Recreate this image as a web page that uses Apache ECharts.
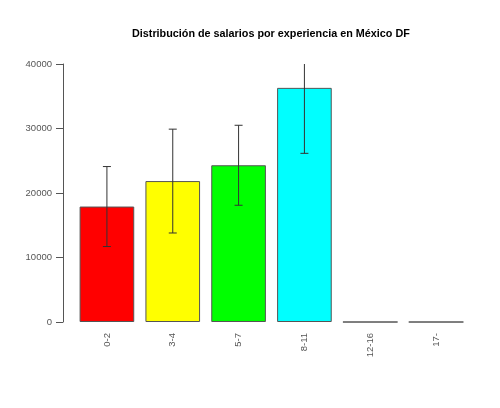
<!DOCTYPE html>
<html>
<head>
<meta charset="utf-8">
<script src="https://cdn.jsdelivr.net/npm/echarts@6/dist/echarts.min.js"></script>
<style>
html,body{margin:0;padding:0;background:#fff;}
#main{width:500px;height:408px;}
</style>
</head>
<body>
<div id="main"></div>
<script>
// salarios medios y desviación por experiencia (años)
var categories=['0-2','3-4','5-7','8-11','12-16','17-'];
var means=[17900,21850,24300,36300,0,0];
var sds=[6200,8050,6200,10150,null,null];
var barColors=['#ff0000','#ffff00','#00ff00','#00ffff','#0000ff','#ff00ff'];
var yTicks=[0,10000,20000,30000,40000];

var chart=echarts.init(document.getElementById('main'));
var yMax=yTicks[yTicks.length-1];

chart.setOption({
    animation:false,
    title:{
        text:'Distribución de salarios por experiencia en México DF',
        left:127,
        top:24,
        textStyle:{
            fontFamily:'Liberation Sans',
            fontSize:10.8,
            fontWeight:'bold',
            color:'#000'
        }
    },
    grid:{   //área del gráfico
        left:74,
        right:31,
        top:64,
        bottom:86
    },
    xAxis:{
        type:'category',
        data:categories,
        axisLine:{show:false},
        axisTick:{show:false},
        axisLabel:{
            rotate:90,
            margin:11,
            interval:0,
            fontFamily:'Liberation Sans',
            fontSize:9.5,
            color:'#555'
        }
    },
    yAxis:{
        type:'value',
        min:yTicks[0],
        max:yMax,
        interval:10000,
        offset:11,
        splitLine:{show:false},
        axisLine:{show:true,lineStyle:{color:'#555',width:1}},
        axisTick:{show:true,length:7,lineStyle:{color:'#555'}},
        axisLabel:{
            margin:11,
            fontFamily:'Liberation Sans',
            fontSize:9.5,
            color:'#555',
            formatter:function(v){return String(v);}
        }
    },
    series:[
        {
            type:'bar',
            barCategoryGap:'17%',
            data:means.map(function(v,i){
                return {value:v,itemStyle:{color:barColors[i]}};
            }),
            itemStyle:{borderColor:'#555',borderWidth:1}
        },
        {
            type:'custom',
            clip:true,
            data:means.map(function(v,i){return [i,v,sds[i]];}),
            renderItem:function(params,api){
                var sd=api.value(2);
                if(sd==null||isNaN(sd)) return;
                var i=api.value(0),m=api.value(1);
                var hi=Math.min(m+sd,yMax),lo=m-sd;
                var pHi=api.coord([i,hi]),pLo=api.coord([i,lo]);
                var w=4,st={stroke:'#333',lineWidth:1};
                var kids=[
                    {type:'line',shape:{x1:pHi[0],y1:pHi[1],x2:pLo[0],y2:pLo[1]},style:st},
                    {type:'line',shape:{x1:pLo[0]-w,y1:pLo[1],x2:pLo[0]+w,y2:pLo[1]},style:st}
                ];
                if(m+sd<=yMax){
                    kids.push({type:'line',shape:{x1:pHi[0]-w,y1:pHi[1],x2:pHi[0]+w,y2:pHi[1]},style:st});
                }
                return {type:'group',children:kids};
            },
            z:3
        }
    ]
});
</script>
</body>
</html>
